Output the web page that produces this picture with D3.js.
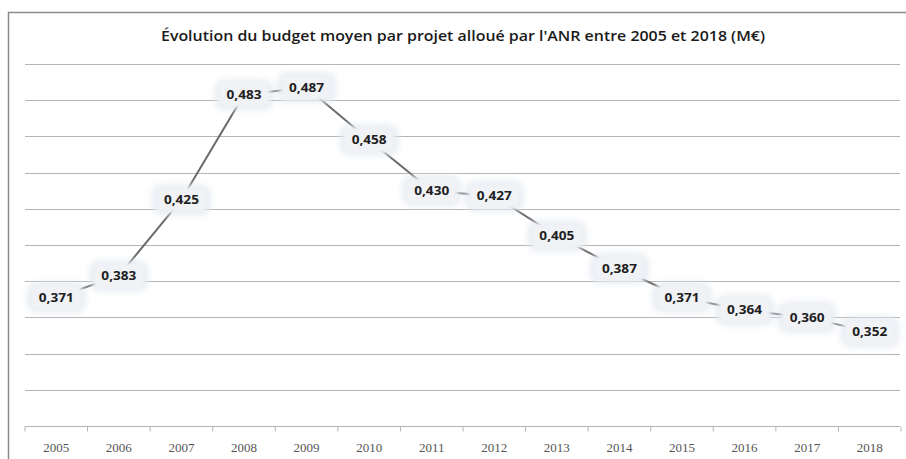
<!DOCTYPE html>
<html><head><meta charset="utf-8">
<script src="https://cdn.jsdelivr.net/npm/d3@7"></script>
<style>body{margin:0;background:#fff}svg{display:block}</style>
</head><body><div id="c"></div>
<script>
const years = ["2005","2006","2007","2008","2009","2010","2011","2012","2013","2014","2015","2016","2017","2018"];
const values = [0.371,0.383,0.425,0.483,0.487,0.458,0.430,0.427,0.405,0.387,0.371,0.364,0.360,0.352];
const labels = ["0,371","0,383","0,425","0,483","0,487","0,458","0,430","0,427","0,405","0,387","0,371","0,364","0,360","0,352"];
const yTicks = [0.30,0.32,0.34,0.36,0.38,0.40,0.42,0.44,0.46,0.48,0.50];
const title = "Évolution du budget moyen par projet alloué par l'ANR entre 2005 et 2018 (M€)";

const W = 906, H = 459;
const svg = d3.select("#c").append("svg").attr("width", W).attr("height", H);
const defs = svg.append("defs");
defs.append("filter").attr("id","glow").attr("x","-50%").attr("y","-50%").attr("width","200%").attr("height","200%")
  .append("feGaussianBlur").attr("stdDeviation", 3.5);
defs.append("filter").attr("id","soft").attr("x","-30%").attr("y","-30%").attr("width","160%").attr("height","160%")
  .append("feGaussianBlur").attr("stdDeviation", 1.5);

// frame
svg.append("rect").attr("x",8.5).attr("y",12.5).attr("width",W+10).attr("height",H+10)
  .attr("fill","#fff").attr("stroke","#8a8a8a").attr("stroke-width",1.5);

const x = d3.scaleBand().domain(years).range([25, 901]);
const y = d3.scaleLinear().domain([0.30, 0.50]).range([426, 64]);

// gridlines
svg.append("g").selectAll("line").data(yTicks.slice(1)).join("line")
  .attr("x1", 25).attr("x2", 900)
  .attr("y1", d => Math.round(y(d)) + 0.5).attr("y2", d => Math.round(y(d)) + 0.5)
  .attr("stroke", "#b4b4b4").attr("stroke-width", 1.2);

// x axis
const ax = svg.append("g").attr("transform", `translate(0,${Math.round(y(0.30))+0.5})`);
ax.append("line").attr("x1",25).attr("x2",900).attr("stroke","#b4b4b4").attr("stroke-width",1.2);
ax.selectAll("line.t").data(years.concat(["end"])).join("line").attr("class","t")
  .attr("x1",(d,i)=>25 + i*x.step()).attr("x2",(d,i)=>25 + i*x.step())
  .attr("y1",0).attr("y2",5).attr("stroke","#b4b4b4");
ax.selectAll("text").data(years).join("text")
  .attr("x", d => x(d) + x.bandwidth()/2).attr("y", 25)
  .attr("text-anchor","middle").attr("font-family","Liberation Serif, serif")
  .attr("font-size", 13).attr("fill","#555").text(d => d);

// title
svg.append("text").attr("x", 463).attr("y", 41).attr("text-anchor","middle")
  .attr("font-family","Open Sans, sans-serif").attr("font-weight","600").attr("font-size",15)
  .attr("textLength", 604).attr("lengthAdjust","spacingAndGlyphs")
  .attr("fill","#1a1a1a").text(title);

// line
const pts = years.map((yr,i)=>({yr, v: values[i], l: labels[i]}));
svg.append("path").datum(pts)
  .attr("d", d3.line().x(d => x(d.yr) + x.bandwidth()/2).y(d => y(d.v)))
  .attr("fill","none").attr("stroke","#6a6a6a").attr("stroke-width",2);

// labels
const lg = svg.append("g").selectAll("g").data(pts).join("g")
  .attr("transform", d => `translate(${x(d.yr) + x.bandwidth()/2},${y(d.v)})`);
lg.append("rect").attr("x",-29).attr("y",-15).attr("width",58).attr("height",30).attr("rx",9)
  .attr("fill","#e2e7ef").attr("opacity",0.85).attr("filter","url(#glow)");
lg.append("rect").attr("x",-25).attr("y",-12).attr("width",50).attr("height",24).attr("rx",5)
  .attr("fill","#f0f2f6").attr("filter","url(#soft)");
lg.append("text").attr("text-anchor","middle").attr("dy","0.36em")
  .attr("font-family","Open Sans, sans-serif").attr("font-weight","700").attr("font-size",12)
  .attr("textLength", 35).attr("lengthAdjust","spacingAndGlyphs")
  .attr("fill","#1e1e1e").text(d => d.l);
</script></body></html>
